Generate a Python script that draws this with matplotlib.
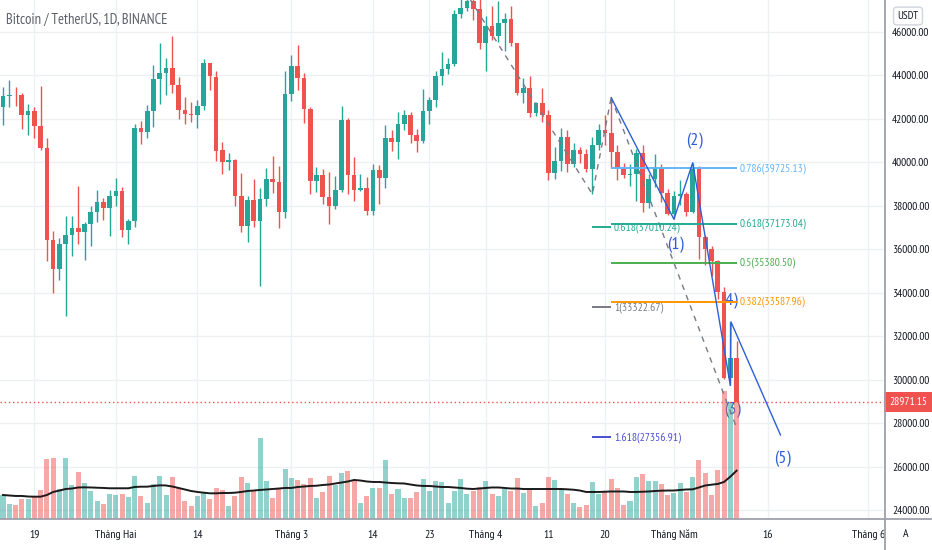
import matplotlib
matplotlib.use("Agg")
import matplotlib.pyplot as plt
import matplotlib.transforms as mtransforms
from matplotlib.lines import Line2D
import numpy as np
import pandas as pd

# BTCUSDT daily candles, 14 Jan - 11 May 2022
start_date = "2022-01-14"
end_date = "2022-05-11"

opens = [42558, 43071, 43098, 43078, 42200, 42352, 41660, 40680, 36445, 35071,
         36245, 36660, 36958, 36810, 37161, 37716, 38166, 37881, 38466, 38694,
         36897, 37311, 41572, 41382, 42380, 43840, 44118, 44338, 43566, 42408,
         42236, 42198, 42586, 44579, 43937, 40553, 40000, 40120, 38431, 37075,
         38286, 37296, 38328, 39219, 39116, 37699, 43160, 44422, 43893, 42455,
         39148, 39397, 38420, 37988, 38730, 41942, 39422, 38729, 38807, 37778,
         39671, 39281, 41114, 40917, 41757, 42201, 41262, 41002, 42364, 42882,
         43992, 44313, 44511, 46827, 47122, 47434, 47067, 45511, 46283, 45811,
         46407, 46580, 45497, 43171, 43445, 42253, 42754, 42159, 39531, 40074,
         41148, 39943, 40552, 40378, 39679, 40802, 41494, 41358, 40480, 39710,
         39441, 39450, 40427, 38112, 39236, 39743, 38597, 37630, 38469, 38525,
         37729, 39690, 36552, 36014, 35468, 34038, 30074, 31017]
closes = [43071, 43098, 43078, 42200, 42352, 41660, 40680, 36445, 35071, 36244,
          36660, 36958, 36809, 37160, 37716, 38166, 37881, 38466, 38694, 36896,
          37311, 41574, 41382, 42380, 43840, 44118, 44338, 43565, 42407, 42244,
          42197, 42586, 44575, 43961, 40538, 40000, 40120, 38431, 37075, 38286,
          37296, 38328, 39219, 39116, 37700, 43160, 44421, 43892, 42455, 39148,
          39397, 38420, 37988, 38730, 41941, 39422, 38730, 38807, 37778, 39671,
          39280, 41114, 40917, 41757, 42201, 41262, 41002, 42364, 42882, 43991,
          44313, 44511, 46827, 47122, 47434, 47067, 45510, 46283, 45811, 46407,
          46580, 45497, 43170, 43444, 42252, 42753, 42158, 39530, 40074, 41147,
          39942, 40551, 40378, 39678, 40801, 41494, 41358, 40480, 39709, 39441,
          39450, 40426, 38112, 39235, 39742, 38596, 37630, 38468, 38525, 37728,
          39690, 36552, 36013, 35472, 34038, 30076, 31017, 28971.15]
highs = [43448, 43800, 43478, 43180, 42691, 42559, 43500, 41100, 36835, 36499,
         37550, 37545, 38920, 37234, 38000, 38720, 38359, 38744, 39265, 38855,
         37387, 41772, 41913, 42656, 44500, 45492, 44799, 45821, 43920, 43000,
         42760, 42876, 44751, 44583, 44200, 40959, 40444, 40150, 39494, 38429,
         39249, 38800, 39726, 40300, 39855, 44225, 44949, 45400, 44101, 42527,
         39794, 39693, 39547, 39362, 42594, 42039, 40236, 39486, 39309, 39947,
         39887, 41718, 41478, 42325, 42400, 42296, 41544, 43361, 43025, 44220,
         45094, 44792, 46999, 48190, 48097, 47700, 47600, 46720, 47213, 47444,
         46890, 47200, 45507, 43900, 43970, 42800, 43435, 42414, 40699, 41561,
         41500, 40870, 40709, 40595, 41147, 41760, 42199, 42976, 40795, 39980,
         39940, 40616, 40797, 39474, 40372, 39925, 38795, 38675, 39167, 38651,
         39980, 39845, 36650, 36146, 35510, 34243, 32659, 31800]
lows = [41725, 42555, 42581, 41540, 41250, 41138, 40553, 35440, 34008, 34601,
        32917, 35701, 36234, 35507, 36155, 37268, 37351, 36632, 38000, 36586,
        36250, 37026, 40843, 41116, 41645, 42666, 43117, 43188, 42000, 41748,
        41870, 41570, 42428, 43310, 40073, 39450, 39640, 38000, 36800, 36350,
        37036, 34322, 38014, 38582, 37000, 37450, 42809, 43334, 41832, 38550,
        38656, 38088, 37155, 37867, 38656, 38539, 38223, 38660, 37578, 37555,
        38098, 38828, 40500, 40135, 41499, 40911, 40467, 40875, 41751, 42560,
        43579, 44072, 44421, 46665, 46950, 46535, 45200, 44200, 45620, 45530,
        45118, 45353, 43121, 42727, 42107, 42125, 41868, 39200, 39254, 39588,
        39551, 39766, 39991, 39546, 38536, 40571, 40820, 39751, 39177, 39285,
        38929, 38200, 37702, 37881, 38881, 38175, 37578, 37386, 38052, 37517,
        37671, 35571, 35258, 34785, 33714, 30033, 29730, 28971]

volumes = [30, 19, 17.5, 25, 25, 27.5, 36, 75, 76, 37.5,
           76, 42.5, 59, 45, 35, 22.5, 19, 31, 30, 31,
           27.5, 54, 29, 20, 44, 54, 30, 52.5, 39, 22.5,
           16, 29, 32.5, 25, 39, 36, 16, 29, 52.5, 45,
           35, 101, 47.5, 26, 39, 62.5, 51, 49, 44, 51,
           26, 34, 54, 42.5, 57.5, 60, 49, 20, 29, 39,
           39, 74, 31, 37.5, 26, 26, 34, 50, 35, 47.5,
           46, 20, 35, 50, 31, 35, 40, 47.5, 31, 29,
           37.5, 35, 51, 32.5, 36, 16, 20, 52.5, 49, 36,
           31, 20, 15, 17.5, 46, 31, 34, 50, 39, 17.5,
           22.5, 52.5, 56, 47.5, 47.5, 44, 30, 32.5, 45, 34,
           52.5, 74, 57.5, 30, 61, 160, 145, 150]
volume_ma = [30, 29.4, 28.8, 28.8, 28.1, 27.9, 27.9, 30, 33.8, 35.6,
             37.5, 38.1, 39.4, 39.6, 39.4, 39.1, 38.8, 38.4, 38.4, 38.4,
             38.4, 40, 40.4, 40.4, 41.3, 42.1, 41.9, 40.6, 38.8, 36.9,
             35, 33.8, 32.9, 32.1, 32.1, 32.5, 32.5, 32.9, 33.8, 35,
             35.6, 36.3, 36.9, 37.5, 38.1, 38.8, 38.8, 40, 40.6, 41.3,
             41.6, 42.5, 43.1, 44.4, 45.6, 46.9, 48.8, 48.1, 46.9, 46.3,
             46.3, 45.6, 45, 44.6, 44.4, 43.1, 41.9, 41.3, 41.3, 40.6,
             40, 40, 39.4, 38.8, 37.9, 37.5, 38.1, 38.8, 39.4, 39.4,
             38.8, 38.1, 38.1, 37.5, 37.5, 37.5, 37.5, 37.5, 37.5, 37.5,
             37.1, 36.6, 35.6, 33.8, 33.8, 33.8, 34.1, 34.4, 34.4, 34.4,
             33.8, 33.8, 34.1, 34.4, 35, 35.4, 35.6, 35.6, 36.3, 36.9,
             37.1, 39.4, 41.9, 42.9, 43.8, 46.3, 52.9, 60.4]

last_price = 28971.15

tick_dates = ["2022-01-19", "2022-02-01", "2022-02-14", "2022-03-01", "2022-03-14",
              "2022-03-23", "2022-04-01", "2022-04-11", "2022-04-20", "2022-05-01",
              "2022-05-16", "2022-06-01"]
tick_labels = ["19", "Tháng Hai", "14", "Tháng 3", "14", "23", "Tháng 4", "11",
               "20", "Tháng Năm", "16", "Tháng 6"]
price_ticks = [24000, 26000, 28000, 30000, 32000, 34000, 36000, 38000, 40000,
               42000, 44000, 46000]

# fib retracement (Apr 21 high -> May 11)
ret_start, ret_end = "2022-04-21", "2022-05-11"
ret_top, ret_bottom = 42976, 27785
ret_levels = ["0.786", "0.618", "0.5", "0.382"]
ret_prices = [39725.13, 37173.04, 35380.50, 33587.96]
ret_colors = ["#64b5f6", "#22ab94", "#4caf50", "#ff9800"]

# trend-based fib extension A -> B -> C
ext_dates = ["2022-03-28", "2022-04-18", "2022-04-21"]
ext_points = [48190, 38536, 42976]
ext_levels = ["0.618", "1", "1.618"]
ext_prices = [37010.24, 33322.67, 27356.91]
ext_colors = ["#22ab94", "#787b86", "#4a4fd1"]

# elliott wave points and labels (label x in days from start)
wave_dates = ["2022-04-21", "2022-05-01", "2022-05-04", "2022-05-10", "2022-05-10", "2022-05-18"]
wave_prices = [42976, 37386, 39980, 29730, 32659, 27452]
wave_labels = ["(1)", "(2)", "(3)", "(4)", "(5)"]
wave_label_x = [107.3, 110.3, 116.3, 115.9, 124.3]
wave_label_prices = [36210, 40997, 28602, 33619, 26347]

# ---------------------------------------------------------------------------
plt.rcParams["font.family"] = ["PT Sans Narrow", "DejaVu Sans"]

GREEN = "#26a69a"
RED = "#ef5350"
GRID = "#eef0f4"
TEXT = "#131722"
YMIN, YMAX = 23585, 47473
VMAX = 648.75

dates = pd.date_range(start_date, end_date, freq="D")
t0 = dates[0]


def day(d):
    return (pd.Timestamp(d) - t0).days


x = np.arange(len(dates))
o = np.array(opens, float)
c = np.array(closes, float)
h = np.array(highs, float)
l = np.array(lows, float)
up = c >= o
candle_colors = np.where(up, GREEN, RED)

W, H = 932, 550
cw = 885 / W
cb = 31 / H
ch = 1 - cb

fig = plt.figure(figsize=(W / 100, H / 100), dpi=100)
fig.patch.set_facecolor("white")

vax = fig.add_axes([0, cb, cw, ch])
ax = fig.add_axes([0, cb, cw, ch], sharex=vax)
ax.patch.set_alpha(0)

ax.set_xlim(-0.478, 140.67)
ax.set_ylim(YMIN, YMAX)
vax.set_ylim(0, VMAX)

for a in (ax, vax):
    for s in a.spines.values():
        s.set_visible(False)

tick_pos = [day(d) for d in tick_dates]

# grid (drawn on the bottom pane so everything sits over it)
for p in price_ticks:
    vax.axhline((p - YMIN) / (YMAX - YMIN) * VMAX, color=GRID, lw=1, zorder=0)
for p in tick_pos:
    vax.axvline(p, color=GRID, lw=1, zorder=0)
vax.set_yticks([])
vax.tick_params(axis="x", length=0, labelbottom=False)

# volume
vax.bar(x, volumes, width=0.8, color=candle_colors, alpha=0.5, zorder=2)
vax.plot(x, volume_ma, color="#1a1a1a", lw=1.4, zorder=3)

# wave labels sit behind the series
for lab, lx, p in zip(wave_labels, wave_label_x, wave_label_prices):
    vax.text(lx, p, lab, transform=ax.transData, color="#2f5fd6",
             fontsize=13, ha="center", va="center", zorder=1)

# candles
ax.vlines(x, l, h, colors=candle_colors, lw=1, zorder=3)
ax.bar(x, np.maximum(np.abs(c - o), 45), bottom=np.minimum(o, c), width=0.74,
       color=candle_colors, zorder=4)

# last price line
ax.axhline(last_price, color=RED, lw=1, ls=(0, (1, 2)), zorder=2)

# fib retracement
rs, re_ = day(ret_start), day(ret_end)
ax.plot([rs, re_], [ret_top, ret_bottom], color="#787b86", lw=1, ls=(0, (4, 4)), zorder=5)
for lev, p, col in zip(ret_levels, ret_prices, ret_colors):
    ax.hlines(p, rs, re_, colors=col, lw=1.4, zorder=5)
    ax.text(re_ + 0.5, p, f"{lev}({p:.2f})", color=col, fontsize=8.3,
            ha="left", va="center", zorder=6)

# fib extension
ex = [day(d) for d in ext_dates]
ax.plot(ex, ext_points, color="#787b86", lw=1, ls=(0, (4, 4)), zorder=5)
for lev, p, col in zip(ext_levels, ext_prices, ext_colors):
    ax.hlines(p, ex[1], ex[2], colors=col, lw=1.4, zorder=5)
    ax.text(ex[2] + 0.45, p, f"{lev}({p:.2f})", color=col, fontsize=8.3,
            ha="left", va="center", zorder=6)

# elliott wave
wx = [day(d) for d in wave_dates]
wx[4] += 0.1
ax.plot(wx, wave_prices, color="#2f5fd6", lw=1, zorder=6)

# right price axis
ax.yaxis.tick_right()
ax.set_yticks(price_ticks)
ax.set_yticklabels([f"{p:.2f}" for p in price_ticks])
ax.tick_params(axis="y", length=0, pad=5, labelsize=8.2, labelcolor=TEXT)
ax.tick_params(axis="x", length=0, labelbottom=False)

blend = mtransforms.blended_transform_factory(ax.transAxes, ax.transData)
ax.text(1 + 4 / 885, last_price, f"{last_price:.2f}", transform=blend,
        color="white", fontsize=8.2, ha="left", va="center", clip_on=False,
        bbox=dict(boxstyle="square,pad=0.4", fc=RED, ec="none"), zorder=10)

# time axis strip
bx = fig.add_axes([0, 0, cw, cb], sharex=vax)
bx.set_axis_off()
for p, lab in zip(tick_pos, tick_labels):
    bx.text(p, 0.5, lab, color=TEXT, fontsize=8.5, ha="center", va="center",
            clip_on=True)

# pane separators
fig.add_artist(Line2D([cw, cw], [0, 1], transform=fig.transFigure, color="#9ea1aa", lw=1.3))
fig.add_artist(Line2D([0, 1], [cb, cb], transform=fig.transFigure, color="#9ea1aa", lw=1.3))

fig.text(6 / W, 1 - 20 / H, "Bitcoin / TetherUS, 1D, BINANCE", color="#5d606b",
         fontsize=10.5, ha="left", va="center")
fig.text(908 / W, 1 - 16 / H, "USDT", color=TEXT, fontsize=8, ha="center",
         va="center", bbox=dict(boxstyle="round,pad=0.35,rounding_size=0.3",
                                fc="white", ec="#d1d4dc", lw=1))
fig.text(906 / W, 1 - 534 / H, "A", color=TEXT, fontsize=8.5, ha="center", va="center")

fig.savefig("out.png", dpi=100)
